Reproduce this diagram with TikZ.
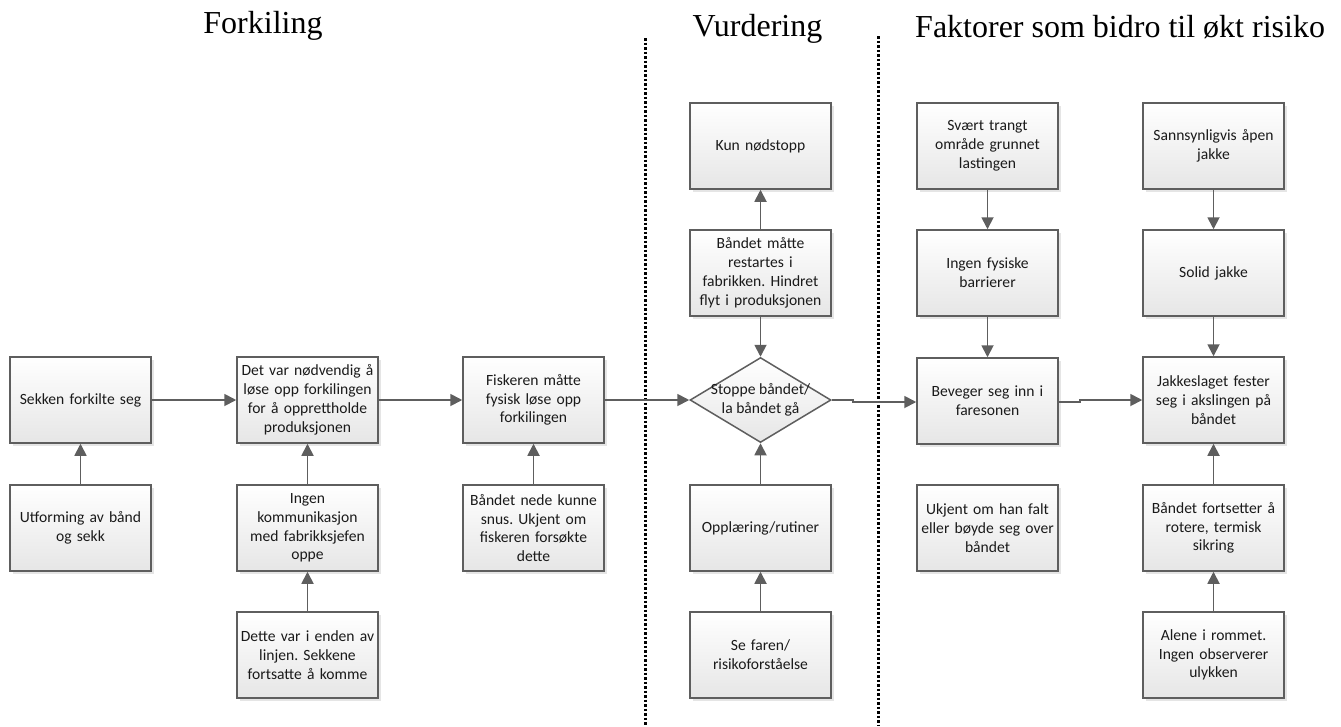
\documentclass[tikz,border=0pt]{standalone}
\usepackage{fontspec}
\setmainfont{Carlito}
\newfontfamily\titlefont{Liberation Serif}
\usetikzlibrary{arrows.meta,shapes.geometric,shadows}
\definecolor{edgegray}{HTML}{5E5E5E}
\definecolor{arrowgray}{HTML}{5E5E5E}
\definecolor{boxbottom}{HTML}{E6E6E6}
\definecolor{txt}{HTML}{1A1A1A}
\frenchspacing
\tikzset{
  boxfont/.style={font=\fontsize{15.6pt}{18.8pt}\selectfont, text=txt},
  box/.style={draw=edgegray, line width=1.5pt, top color=white, bottom color=boxbottom,
    minimum width=141pt, minimum height=86pt, inner sep=0pt, text width=139pt, align=center,
    boxfont,
    drop shadow={shadow xshift=2.5pt, shadow yshift=-2.5pt, fill=black!10, opacity=1}},
  dia/.style={draw=edgegray, line width=1.5pt, diamond, top color=white, bottom color=boxbottom,
    minimum width=141pt, minimum height=85pt, inner sep=0pt},
  conn/.style={draw=arrowgray, line width=1.8pt, -{Triangle[length=12pt,width=12pt]}},
  sep/.style={line width=3pt, dash pattern=on 2.6pt off 1.9pt},
  title/.style={font=\titlefont\fontsize{32pt}{36pt}\selectfont, inner sep=0pt, anchor=base}
}
\begin{document}
\begin{tikzpicture}[x=1pt,y=-1pt]
\useasboundingbox (0,0) rectangle (1341,726);
% titles
\node[title] (t1) at (263,33) {Forkiling};
\node[title] (t2) at (757.5,36) {Vurdering};
\node[title, anchor=base west] (t3) at (915,37) {Faktorer som bidro til økt risiko};
% separators
\draw[sep] (645,38) -- (645,726);
\draw[sep] (878,36) -- (878,726);
% column 1
\node[box] (a3) at (80.5,400) {Sekken forkilte seg};
\node[box] (a4) at (80.5,528) {Utforming av bånd\\og sekk};
% column 2
\node[box] (b3) at (307.5,400) {Det var nødvendig å\\løse opp forkilingen\\for å opprettholde\\produksjonen};
\node[box] (b4) at (307.5,528) {Ingen\\kommunikasjon\\med fabrikksjefen\\oppe};
\node[box] (b5) at (307.5,655) {Dette var i enden av\\linjen. Sekkene\\fortsatte å komme};
% column 3
\node[box] (c3) at (533.5,400) {Fiskeren måtte\\fysisk løse opp\\forkilingen};
\node[box] (c4) at (533.5,528) {Båndet nede kunne\\snus. Ukjent om\\fiskeren forsøkte\\dette};
% column 4
\node[box] (d1) at (760.5,146) {Kun nødstopp};
\node[box] (d2) at (760.5,273) {Båndet måtte\\restartes i\\fabrikken. Hindret\\flyt i produksjonen};
\node[dia, label={[align=center, boxfont, inner sep=0pt]center:Stoppe båndet/\\la båndet gå}] (d3) at (760.5,400) {};
\node[box] (d4) at (760.5,528) {Opplæring/rutiner};
\node[box] (d5) at (760.5,655) {Se faren/\\risikoforståelse};
% column 5
\node[box] (e1) at (987.5,146) {Svært trangt\\område grunnet\\lastingen};
\node[box] (e2) at (987.5,273) {Ingen fysiske\\barrierer};
\node[box] (e3) at (987.5,401) {Beveger seg inn i\\faresonen};
\node[box] (e4) at (987.5,528) {Ukjent om han falt\\eller bøyde seg over\\båndet};
% column 6
\node[box] (f1) at (1213.5,146) {Sannsynligvis åpen\\jakke};
\node[box] (f2) at (1213.5,273) {Solid jakke};
\node[box] (f3) at (1213.5,400) {Jakkeslaget fester\\seg i akslingen på\\båndet};
\node[box] (f4) at (1213.5,528) {Båndet fortsetter å\\rotere, termisk\\sikring};
\node[box] (f5) at (1213.5,655) {Alene i rommet.\\Ingen observerer\\ulykken};
% connectors
\draw[conn] (a4) -- (a3);
\draw[conn] (b4) -- (b3);
\draw[conn] (b5) -- (b4);
\draw[conn] (c4) -- (c3);
\draw[conn] (a3) -- (b3);
\draw[conn] (b3) -- (c3);
\draw[conn] (c3) -- (d3.west);
\draw[conn] (d2) -- (d1);
\draw[conn] (d2) -- (d3.north);
\draw[conn] (d4) -- (d3.south);
\draw[conn] (d5) -- (d4);
\draw[conn] (d3.east) -- ++(21,0) |- ([yshift=-1pt]e3.west);
\draw[conn] (e1) -- (e2);
\draw[conn] (e2) -- (e3);
\draw[conn] ([yshift=-1pt]e3.east) -- ++(21,0) |- (f3.west);
\draw[conn] (f1) -- (f2);
\draw[conn] (f2) -- (f3);
\draw[conn] (f4) -- (f3);
\draw[conn] (f5) -- (f4);
\end{tikzpicture}
\end{document}
